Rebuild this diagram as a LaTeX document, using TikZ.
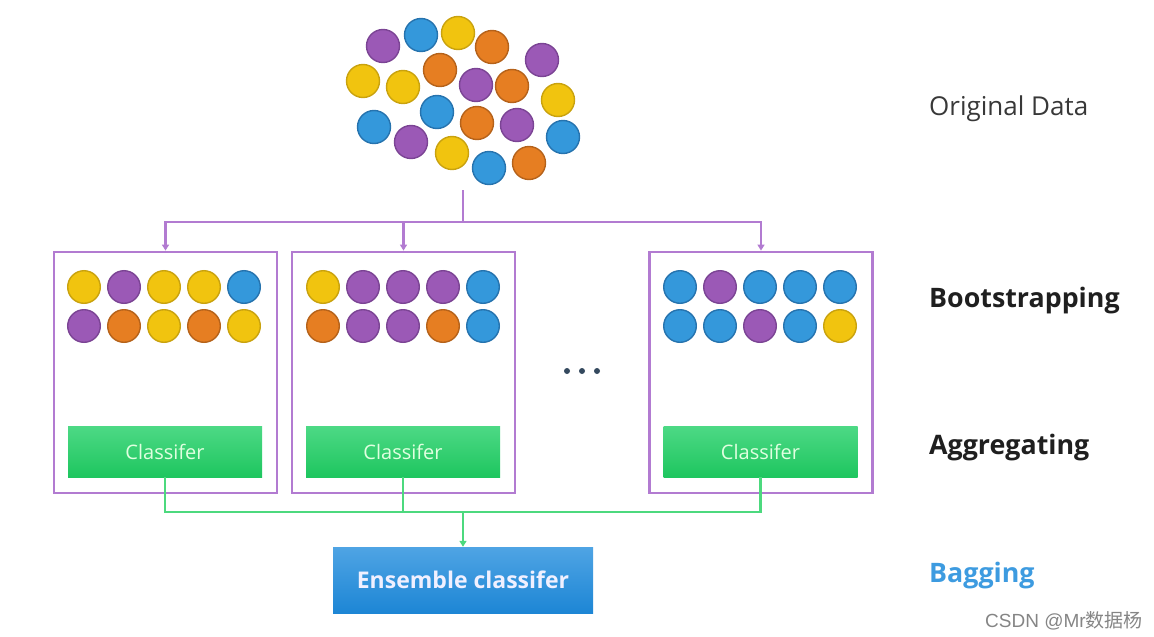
\documentclass[tikz,border=0pt]{standalone}
\usepackage{fontspec}
\setmainfont{Open Sans}
\newfontfamily\wmfont{Liberation Sans}
\newfontfamily\cjkfont{Noto Sans CJK SC}
\usetikzlibrary{arrows.meta}

\definecolor{ballY}{HTML}{F1C40F}
\definecolor{ballYd}{HTML}{C9A20E}
\definecolor{ballP}{HTML}{9B59B6}
\definecolor{ballPd}{HTML}{7B4494}
\definecolor{ballB}{HTML}{3498DB}
\definecolor{ballBd}{HTML}{2673AE}
\definecolor{ballO}{HTML}{E67E22}
\definecolor{ballOd}{HTML}{B5621A}
\definecolor{bagline}{HTML}{B27BD1}
\definecolor{greenline}{HTML}{4CD97E}
\definecolor{clstop}{HTML}{4DD985}
\definecolor{clsbot}{HTML}{1EC65F}
\definecolor{enstop}{HTML}{4FA4E4}
\definecolor{ensbot}{HTML}{1D86D5}
\definecolor{baggingblue}{HTML}{3D9BE0}
\definecolor{dotgray}{HTML}{34495E}

\begin{document}
\begin{tikzpicture}[x=1pt,y=-1pt]
  \tikzstyle{every node}+=[inner sep=0pt]
  \tikzstyle{Y}=[fill=ballY,draw=ballYd,line width=1.4pt]
  \tikzstyle{P}=[fill=ballP,draw=ballPd,line width=1.4pt]
  \tikzstyle{B}=[fill=ballB,draw=ballBd,line width=1.4pt]
  \tikzstyle{O}=[fill=ballO,draw=ballOd,line width=1.4pt]
  \tikzstyle{bagbox}=[draw=bagline,line width=2.8pt,minimum width=223,minimum height=241]
  \tikzstyle{clsbox}=[top color=clstop,bottom color=clsbot,minimum width=194,minimum height=51,
                      text=white!88!green,font=\fontsize{20}{20}\selectfont]
  \tikzstyle{purplearrow}=[draw=bagline,line width=2.4pt,-{Triangle[length=6pt,width=7pt]}]
  \tikzstyle{greenarrow}=[draw=greenline,line width=2.4pt,-{Triangle[length=6pt,width=7pt]}]
  \tikzstyle{steplabel}=[anchor=base west,font=\bfseries\fontsize{26.8}{26.8}\selectfont,text=black!88]
  \useasboundingbox (0,0) rectangle (1154,637);

  % original data
  \foreach \x/\y/\c in {383/46/P,421/35/B,458/33/Y,492/47/O,542/60/P,
                        363/81/Y,403/87/Y,440/70/O,476/85/P,512/86/O,558/100/Y,
                        374/127/B,437/112/B,477/123/O,517/125/P,563/137/B,
                        411/142/P,452/153/Y,489/168/B,529/163/O}
    \draw [\c] (\x,\y) circle (16.5);
  \coordinate (datafoot) at (463,190);
  \coordinate (split) at (463,222);

  % bootstrap samples
  \node [bagbox] (bag1) at (165.5,372.5) {};
  \node [bagbox] (bag2) at (403.5,372.5) {};
  \node [bagbox] (bag3) at (761,372.5) {};
  \foreach \c [count=\i] in {Y,P,Y,Y,B} \draw [\c] (44+40*\i,287) circle (16.3);
  \foreach \c [count=\i] in {P,O,Y,O,Y} \draw [\c] (44+40*\i,326) circle (16.3);
  \foreach \c [count=\i] in {Y,P,P,P,B} \draw [\c] (283+40*\i,287) circle (16.3);
  \foreach \c [count=\i] in {O,P,P,O,B} \draw [\c] (283+40*\i,326) circle (16.3);
  \foreach \c [count=\i] in {B,P,B,B,B} \draw [\c] (640+40*\i,287) circle (16.3);
  \foreach \c [count=\i] in {B,B,P,B,Y} \draw [\c] (640+40*\i,326) circle (16.3);
  \foreach \x in {567,582,597} \fill [dotgray] (\x,371) circle (3);

  \draw [draw=bagline,line width=2.4pt] (datafoot) -- (split);
  \draw [purplearrow] (split) -| (bag1.north);
  \draw [purplearrow] (split) -| (bag2.north);
  \draw [purplearrow] (split) -| (bag3.north);

  % classifiers
  \node [clsbox] (cls1) at (165,451.5) {Classifer};
  \node [clsbox] (cls2) at (403,451.5) {Classifer};
  \node [clsbox] (cls3) at (760.5,451.5) {Classifer};
  \node [top color=enstop,bottom color=ensbot,minimum width=260,minimum height=66,
         text=white!94!blue,font=\bfseries\fontsize{23}{23}\selectfont] (ens) at (463,580) {Ensemble classifer};
  \coordinate (merge) at (463,512);
  \draw [draw=greenline,line width=2.4pt] (cls1.south) |- (merge);
  \draw [draw=greenline,line width=2.4pt] (cls2.south) |- (merge);
  \draw [draw=greenline,line width=2.4pt] (cls3.south) |- (merge);
  \draw [greenarrow] (merge) -- (ens.north);

  % stage labels
  \node [anchor=base west,font=\fontsize{26}{26}\selectfont,text=black!78] (lorig) at (929,115) {Original Data};
  \node [steplabel] (lboot) at (929,307) {Bootstrapping};
  \node [steplabel] (laggr) at (929,454) {Aggregating};
  \node [steplabel,text=baggingblue] (lbag) at (929,582) {Bagging};
  \node [anchor=base west,text=black!48,font=\fontsize{19}{19}\selectfont] (wmark) at (985,627) {\wmfont CSDN @Mr\cjkfont 数据杨};
\end{tikzpicture}
\end{document}
